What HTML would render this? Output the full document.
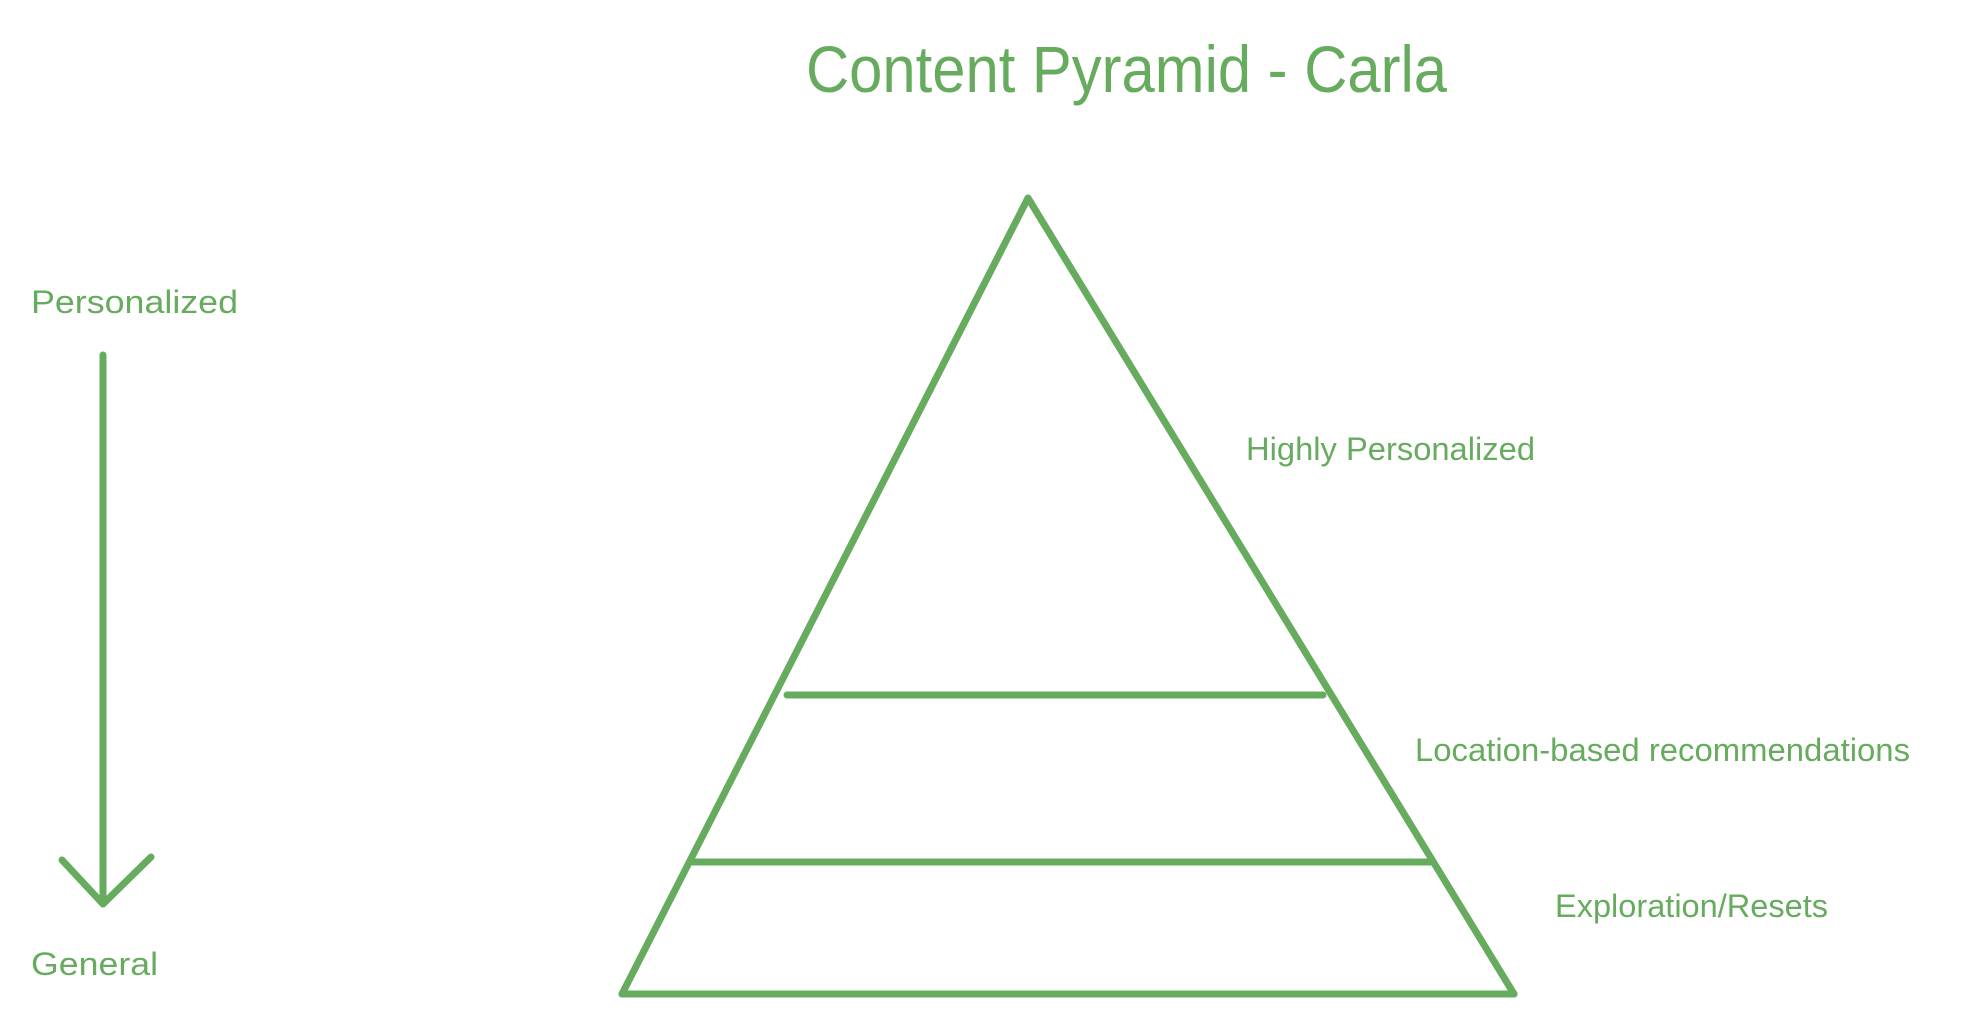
<!DOCTYPE html>
<html><head><style>html,body{margin:0;padding:0;background:#fff;}svg{display:block}</style></head>
<body>
<svg width="1980" height="1026" viewBox="0 0 1980 1026" xmlns="http://www.w3.org/2000/svg" font-family="Liberation Sans, Arial, sans-serif" fill="#67ab5f">
<text x="806" y="92" font-size="66" textLength="641" lengthAdjust="spacingAndGlyphs">Content Pyramid - Carla</text>
<g stroke="#67ab5f" stroke-width="7" stroke-linecap="round" stroke-linejoin="round" fill="none">
<polyline points="622,994 1028,198 1514,994"/>
<line x1="622" y1="994" x2="1514" y2="994"/>
<line x1="787" y1="695" x2="1323" y2="695"/>
<line x1="693" y1="862" x2="1431" y2="862"/>
<line x1="103" y1="355" x2="103" y2="904"/>
<polyline points="62,860 103,904 151,857"/>
</g>
<g font-size="32">
<text x="31" y="313" textLength="207" lengthAdjust="spacingAndGlyphs">Personalized</text>
<text x="31" y="975" textLength="127" lengthAdjust="spacingAndGlyphs">General</text>
<text x="1246" y="460" textLength="289" lengthAdjust="spacingAndGlyphs">Highly Personalized</text>
<text x="1415" y="761" textLength="495" lengthAdjust="spacingAndGlyphs">Location-based recommendations</text>
<text x="1555" y="917" textLength="273" lengthAdjust="spacingAndGlyphs">Exploration/Resets</text>
</g>
</svg>
</body></html>
